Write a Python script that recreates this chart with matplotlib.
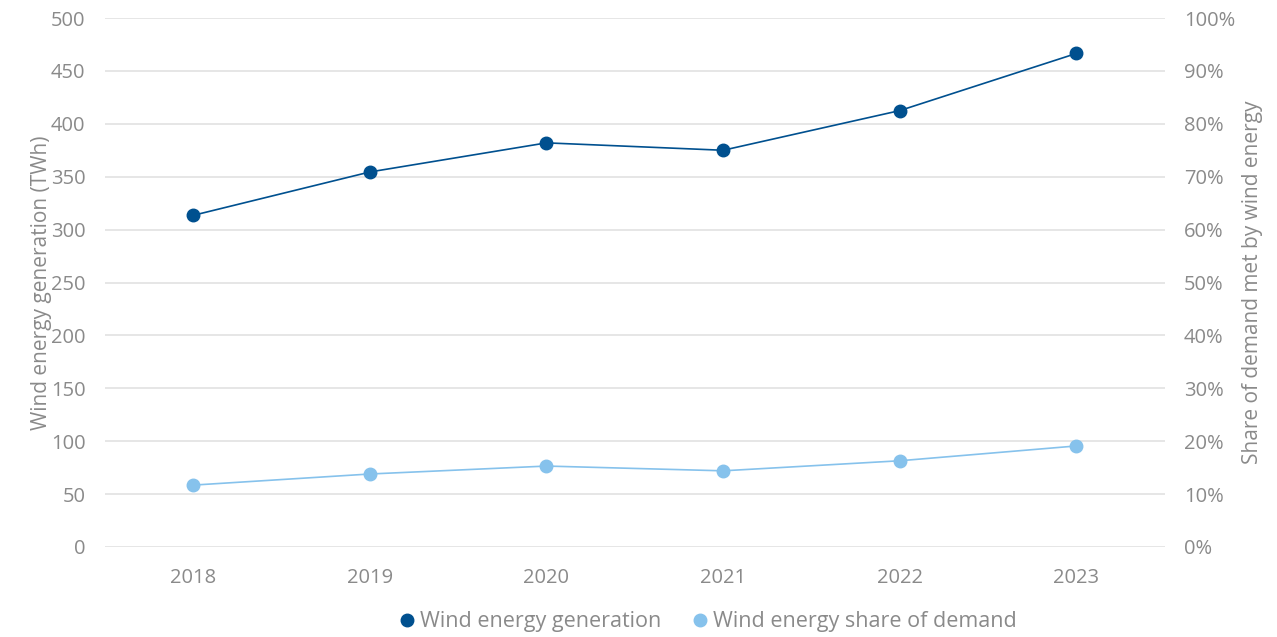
import matplotlib.pyplot as plt
from matplotlib.ticker import PercentFormatter

years = ["2018", "2019", "2020", "2021", "2022", "2023"]
generation_twh = [313.5, 354.5, 382, 375, 412.5, 466.5]
share_pct = [11.7, 13.8, 15.3, 14.4, 16.3, 19.1]

dark = "#00508f"
light = "#86c2ec"
grey = "#8a8a8a"

plt.rcParams['font.family'] = ['Open Sans', 'DejaVu Sans']

fig = plt.figure(figsize=(12.77, 6.37), dpi=100)
ax = fig.add_axes([0.0822, 0.1413, 0.8298, 0.8304])
ax2 = ax.twinx()

x = range(len(years))
l1, = ax.plot(x, generation_twh, '-o', color=dark, linewidth=1.2, markersize=9, label="Wind energy generation", zorder=3)
l2, = ax2.plot(x, share_pct, '-o', color=light, linewidth=1.2, markersize=9, label="Wind energy share of demand", zorder=3)

ax.set_xlim(-0.5, 5.5)
ax.set_ylim(0, 500)
ax2.set_ylim(0, 100)
ax.set_yticks(range(0, 501, 50))
ax2.set_yticks(range(0, 101, 10))
ax2.yaxis.set_major_formatter(PercentFormatter(decimals=0))
ax.set_xticks(list(x))
ax.set_xticklabels(years)

ax.grid(axis='y', color='#e2e2e2', linewidth=1.2)
ax.set_axisbelow(True)
for a in (ax, ax2):
    for s in a.spines.values():
        s.set_visible(False)
    a.tick_params(length=0, labelsize=14.5, colors=grey)
ax.tick_params(axis='y', pad=14)
ax2.tick_params(axis='y', pad=14)
ax.tick_params(axis='x', pad=15)

ax.set_ylabel("Wind energy generation (TWh)", fontsize=15, color=grey, labelpad=-1)
ax2.set_ylabel("Share of demand met by wind energy", fontsize=15, color=grey, labelpad=5)

fig.legend(handles=[l1, l2], loc='center', bbox_to_anchor=(0.555, 0.024), ncol=2, frameon=False,
           fontsize=15.5, labelcolor=grey, handlelength=0.6, handletextpad=0.3, columnspacing=1.5)
for h in fig.legends[0].legend_handles:
    h.set_linestyle('')

fig.savefig("out.png", dpi=100)
